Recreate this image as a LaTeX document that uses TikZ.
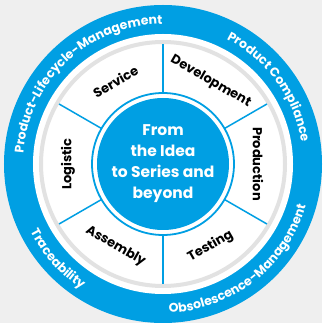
\documentclass[tikz,border=0pt]{standalone}
\usepackage{fontspec}
\setmainfont{Poppins}
\usetikzlibrary{decorations.text}
\definecolor{ringblue}{HTML}{009FE3}
\definecolor{paper}{HTML}{EFEFEF}
\definecolor{gapgrey}{HTML}{E2E2E2}
\begin{document}
\begin{tikzpicture}[x=1pt,y=1pt,
    phase/.style={font=\bfseries\fontsize{13}{15}\selectfont, text=black},
    ringtext/.style={decorate, decoration={text along path, text align=center,
        text={|\bfseries\fontsize{12.5}{14}\selectfont\color{white}|#1}}}]
    \useasboundingbox (-163,-159) rectangle (159,164);
    \fill[paper] (-163,-159) rectangle (159,164);

    % rings
    \fill[ringblue] (0,0) circle[radius=159];
    \fill[white] (0,0) circle[radius=130];
    \draw[gapgrey, line width=4] (0,0) circle[radius=122];
    \draw[ringblue, line width=1.8] (0,0) circle[radius=71];
    \fill[ringblue] (0,0) circle[radius=66];
    \foreach \a in {30,90,...,330}
        \draw[ringblue, line width=1.5] (\a:71) -- (\a:120);

    % outer ring texts
    \path[ringtext={Product-Lifecycle-Management}] (193:140) arc[start angle=193, end angle=73, radius=140];
    \path[ringtext={Product Compliance}] (91:140) arc[start angle=91, end angle=-19, radius=140];
    \path[ringtext={Traceability}] (182:149) arc[start angle=182, end angle=262, radius=149];
    \path[ringtext={Obsolescence-Management}] (-117:149) arc[start angle=-117, end angle=13, radius=149];

    % phases
    \node[phase, rotate=30] (Service) at (120:95) {Service};
    \node[phase, rotate=-30] (Development) at (60:95) {Development};
    \node[phase, rotate=-90] (Production) at (0:95) {Production};
    \node[phase, rotate=30] (Testing) at (-60:95) {Testing};
    \node[phase, rotate=-30] (Assembly) at (-120:95) {Assembly};
    \node[phase, rotate=90] (Logistic) at (180:95) {Logistic};

    \node[align=center, text=white, font=\bfseries\fontsize{15.5}{21}\selectfont] (Idea) at (0,0) {From\\the Idea\\to Series and\\beyond};
\end{tikzpicture}
\end{document}
